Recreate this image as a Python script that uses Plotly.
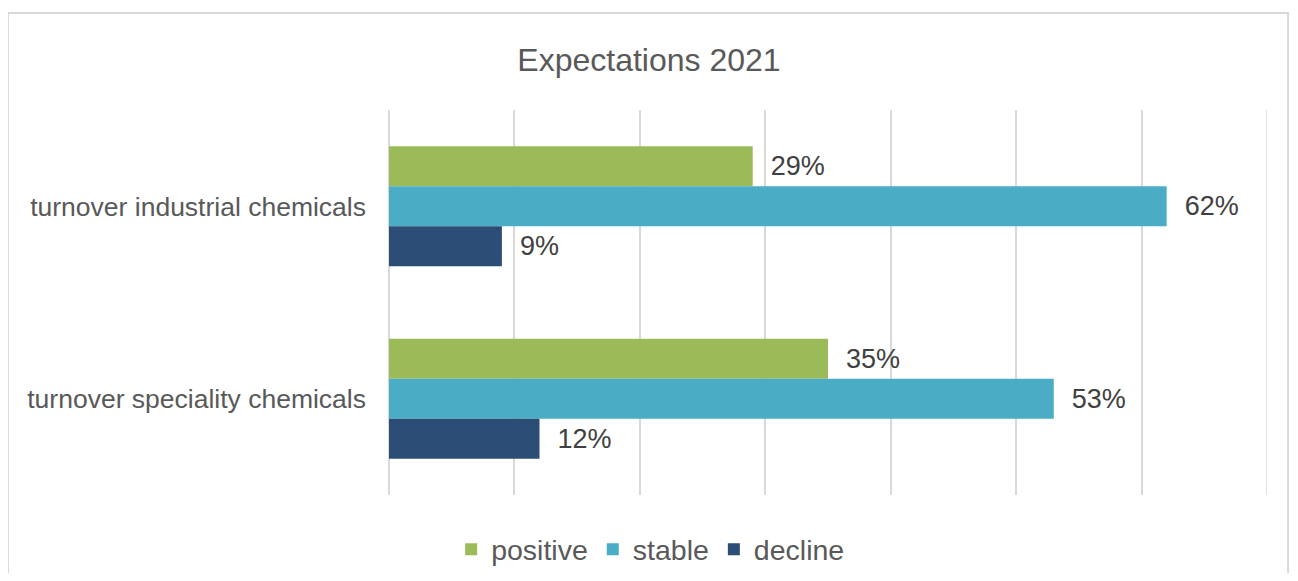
import plotly.graph_objects as go

# Datos
categorias = ["turnover industrial chemicals", "turnover speciality chemicals"]
series = ["positive", "stable", "decline"]
positivo = [29, 35]
estable = [62, 53]
declive = [9, 12]
colores = ["#9BBB59", "#4BACC6", "#2C4D75"]
x_max = 70

fig = go.Figure()

for nombre, valores, color in zip(series, [positivo, estable, declive], colores):
    fig.add_trace(
        go.Bar(
            y=categorias,
            x=valores,
            name=nombre,
            orientation="h",
            marker=dict(color=color, line=dict(width=0)),
            texttemplate="\u00a0\u00a0%{x}%",
            textposition="outside",
            textfont=dict(size=27, color="#404040"),
            cliponaxis=False,
        )
    )

# el body del html tiene 8px de margen, por eso la figura es algo mas pequeña
fig.update_layout(
    title=dict(
        text="Expectations 2021",
        x=0.5,
        xanchor="center",
        y=0.908,
        yanchor="middle",
        font=dict(size=32, color="#595959"),
    ),
    font=dict(family="Liberation Sans, Arial, sans-serif", color="#595959"),
    barmode="group",
    bargap=0.377,
    bargroupgap=0,
    plot_bgcolor="white",
    paper_bgcolor="white",
    width=1282,
    height=565,
    margin=dict(l=381, r=23, t=102, b=78, autoexpand=False),
    xaxis=dict(
        range=[0, x_max],
        dtick=10,
        showticklabels=False,
        showgrid=True,
        gridcolor="#D9D9D9",
        gridwidth=1.5,
        zeroline=True,
        zerolinecolor="#D9D9D9",
        zerolinewidth=1.5,
    ),
    yaxis=dict(
        autorange="reversed",
        tickfont=dict(size=26.5, color="#595959"),
        ticklabelstandoff=22,
        showgrid=False,
    ),
    legend=dict(
        orientation="h",
        x=0.298,
        xanchor="center",
        yref="container",
        y=0.041,
        yanchor="middle",
        font=dict(size=28.5, color="#595959"),
        itemwidth=30,
    ),
    shapes=[
        dict(
            type="rect",
            xref="paper",
            yref="paper",
            x0=-0.434,
            x1=1.024,
            y0=-0.3,
            y1=1.252,
            line=dict(color="#D9D9D9", width=2),
            layer="below",
        ),
        # ultima linea de la rejilla (borde derecho del eje)
        dict(
            type="line",
            xref="x",
            yref="paper",
            x0=x_max,
            x1=x_max,
            y0=0,
            y1=1,
            line=dict(color="#D9D9D9", width=1.5),
            layer="below",
        ),
    ],
)

fig.write_html("out.html")
